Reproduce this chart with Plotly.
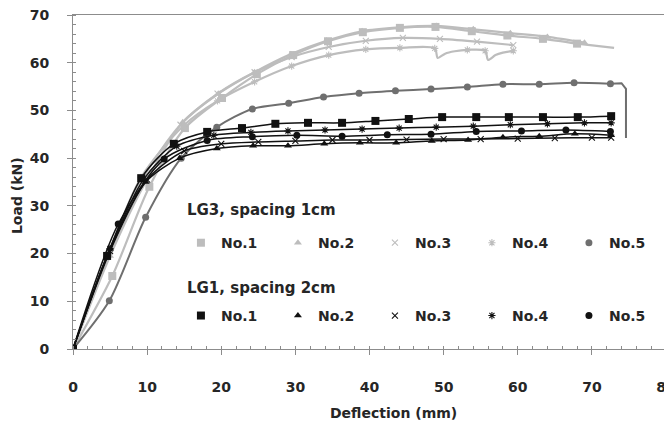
import plotly.graph_objects as go

# ---------------- data ----------------
# LG1, spacing 2cm (black)
lg1_no1_x = [0, 4.6, 9.2, 13.6, 18.1, 22.8, 27.3, 31.7, 36.3, 40.8, 45.3, 49.8, 54.4, 58.8, 63.4, 68.1, 72.6]
lg1_no1_y = [0, 19.5, 35.8, 43.0, 45.5, 46.3, 47.2, 47.4, 47.4, 47.8, 48.2, 48.6, 48.6, 48.6, 48.6, 48.6, 48.8]
lg1_no2_x = [0, 5.0, 9.8, 14.4, 19.4, 24.3, 29.0, 33.9, 38.7, 43.6, 48.4, 53.3, 58.0, 62.9, 67.7, 72.6]
lg1_no2_y = [0, 21.0, 35.0, 40.0, 42.0, 42.6, 42.6, 43.0, 43.2, 43.2, 43.6, 43.8, 44.4, 44.6, 45.1, 44.8]
lg1_no3_x = [0, 5, 10, 15, 20, 25, 30, 35, 40, 45, 50, 55, 60, 65, 70, 72.6]
lg1_no3_y = [0, 20.5, 35.5, 41.5, 43.0, 43.4, 43.6, 43.8, 43.8, 43.9, 44.0, 44.0, 44.1, 44.2, 44.3, 44.3]
lg1_no4_x = [0, 5, 9.5, 14, 19, 24, 29, 34, 39, 44, 49, 54, 59, 64, 69, 72.6]
lg1_no4_y = [0, 21.0, 35.5, 42.5, 44.8, 45.4, 45.7, 45.9, 46.1, 46.3, 46.5, 46.7, 47.0, 47.2, 47.4, 47.4]
lg1_no5_x = [0, 6.1, 12.3, 18.1, 24.2, 30.2, 36.3, 42.4, 48.3, 54.4, 60.5, 66.5, 72.5]
lg1_no5_y = [0, 26.2, 39.8, 43.7, 44.5, 44.8, 44.6, 44.9, 45.0, 45.6, 45.7, 45.9, 45.6]

# LG3, spacing 1cm (grey)
lg3_no1_x = [0, 5.3, 10.3, 15.1, 20.1, 24.8, 29.7, 34.4, 39.1, 44.1, 48.9, 53.8, 58.6, 63.4, 68.0]
lg3_no1_y = [0, 15.3, 34.0, 46.3, 52.6, 57.6, 61.6, 64.5, 66.4, 67.3, 67.5, 66.6, 65.7, 65.0, 64.0]
lg3_no1_tail_x = [68.0, 73.0]
lg3_no1_tail_y = [64.0, 63.1]
lg3_no2_x = [0, 5.0, 9.8, 14.8, 19.6, 24.5, 29.4, 34.2, 39.0, 44.0, 49.0, 54.0, 59.0, 64.0, 69.0]
lg3_no2_y = [0, 19.5, 35.0, 47.5, 53.5, 58.0, 61.8, 64.6, 66.6, 67.4, 67.7, 67.0, 66.2, 65.4, 64.2]
lg3_no3_x = [0, 5, 9.5, 14.5, 19.5, 24.5, 29.5, 34.5, 39.5, 44.5, 49.5, 54.5, 59.4]
lg3_no3_y = [0, 21.0, 36.0, 47.0, 53.5, 58.0, 61.2, 63.3, 64.6, 65.2, 65.0, 64.4, 63.7]
lg3_no4_x = [0, 5, 9.2, 14.9, 19.5, 24.5, 29.5, 34.5, 39.5, 44.1, 48.8, 53.2, 55.6, 59.4]
lg3_no4_y = [0, 21.0, 36.0, 46.8, 52.0, 56.0, 59.3, 61.6, 62.8, 63.1, 63.0, 62.7, 62.5, 62.5]
lg3_no4_dip_x = [49.2, 50.2, 51.5, 56.0, 57.0, 58.0]
lg3_no4_dip_y = [61.0, 61.9, 62.4, 60.6, 61.6, 62.1]
lg3_no5_x = [0, 4.9, 9.8, 14.6, 19.4, 24.2, 29.1, 33.8, 38.6, 43.5, 48.3, 53.2, 58.0, 62.9, 67.6, 72.5]
lg3_no5_y = [0, 10.1, 27.6, 40.0, 46.5, 50.3, 51.5, 52.8, 53.6, 54.1, 54.5, 54.9, 55.5, 55.5, 55.8, 55.6]
lg3_no5_tail_x = [72.5, 74.0, 74.6, 74.6]
lg3_no5_tail_y = [55.6, 55.7, 54.5, 44.2]

names = ["No.1", "No.2", "No.3", "No.4", "No.5"]
x_ticks = [0, 10, 20, 30, 40, 50, 60, 70, 80]
y_ticks = [0, 10, 20, 30, 40, 50, 60, 70]

# ---------------- styles ----------------
LIGHT = "#bdbdbd"
DARK = "#6f6f6f"
BLACK = "#111111"
FONT = "DejaVu Sans"
TXT = "#262626"

fig = go.Figure()


def merge(x, y, ex=None, ey=None):
    pts = list(zip(x, y))
    if ex:
        pts += list(zip(ex, ey))
    pts.sort(key=lambda p: p[0])
    return [p[0] for p in pts], [p[1] for p in pts]


def add_series(x, y, name, color, lw, symbol, msize, legend,
               extra_x=None, extra_y=None, tail_x=None, tail_y=None, open_sym=False):
    lx, ly = merge(x, y, extra_x, extra_y)
    fig.add_trace(go.Scatter(x=lx, y=ly, mode="lines", showlegend=False,
                             line=dict(color=color, width=lw, shape="spline", smoothing=0.8),
                             hoverinfo="skip"))
    if tail_x:
        fig.add_trace(go.Scatter(x=tail_x, y=tail_y, mode="lines", showlegend=False,
                                 line=dict(color=color, width=lw), hoverinfo="skip"))
    if open_sym:
        mk = dict(symbol=symbol, size=msize, color=color, line=dict(color=color, width=1.1))
    else:
        mk = dict(symbol=symbol, size=msize, color=color, line=dict(width=0))
    fig.add_trace(go.Scatter(x=x, y=y, mode="markers", name=name, legend=legend, marker=mk))


# LG3 (drawn first, behind)
add_series(lg3_no1_x, lg3_no1_y, names[0], LIGHT, 2.2, "square", 8, "legend",
           tail_x=lg3_no1_tail_x, tail_y=lg3_no1_tail_y)
add_series(lg3_no2_x, lg3_no2_y, names[1], LIGHT, 2.2, "triangle-up", 7, "legend")
add_series(lg3_no3_x, lg3_no3_y, names[2], LIGHT, 2.2, "x-thin-open", 6, "legend", open_sym=True)
add_series(lg3_no4_x, lg3_no4_y, names[3], LIGHT, 2.2, "asterisk-open", 6, "legend",
           extra_x=lg3_no4_dip_x, extra_y=lg3_no4_dip_y, open_sym=True)
add_series(lg3_no5_x, lg3_no5_y, names[4], DARK, 2, "circle", 7, "legend",
           tail_x=lg3_no5_tail_x, tail_y=lg3_no5_tail_y)

# LG1
add_series(lg1_no1_x, lg1_no1_y, names[0], BLACK, 1.5, "square", 8, "legend2")
add_series(lg1_no2_x, lg1_no2_y, names[1], BLACK, 1.5, "triangle-up", 7, "legend2")
add_series(lg1_no3_x, lg1_no3_y, names[2], BLACK, 1.5, "x-thin-open", 6, "legend2", open_sym=True)
add_series(lg1_no4_x, lg1_no4_y, names[3], BLACK, 1.5, "asterisk-open", 6, "legend2", open_sym=True)
add_series(lg1_no5_x, lg1_no5_y, names[4], BLACK, 1.5, "circle", 7, "legend2")

axis_common = dict(
    showgrid=False, zeroline=False, showline=True, linecolor="#8c8c8c", linewidth=1,
    mirror=True, ticks="outside", ticklen=5, tickcolor="#8c8c8c", tickwidth=1,
    automargin=False, ticklabeloverflow="allow",
    tickfont=dict(family=FONT, size=14, color=TXT, weight="bold"),
    minor=dict(ticks="inside", ticklen=3, tickcolor="#8c8c8c", tickwidth=1, dtick=2, showgrid=False),
)

fig.update_xaxes(range=[0, 80], tickvals=x_ticks, ticklabelstandoff=20, **axis_common)
fig.update_yaxes(range=[0, 70], tickvals=y_ticks, ticklabelstandoff=15, **axis_common)

legend_common = dict(orientation="h", entrywidth=52, entrywidthmode="pixels",
                     font=dict(family=FONT, size=14, color=TXT, weight="bold"),
                     bgcolor="rgba(0,0,0,0)", borderwidth=0, xanchor="left", yanchor="middle",
                     itemclick=False)

# The page body adds an 8 px offset, so the figure is 8 px smaller and the
# margins are set so the plot area lands where the reference has it.
fig.update_layout(
    width=664, height=417,
    margin=dict(l=65, r=6, t=7, b=76, autoexpand=False),
    paper_bgcolor="white", plot_bgcolor="white",
    font=dict(family=FONT, color=TXT),
    legend=dict(x=0.182, y=0.317, **legend_common),
    legend2=dict(x=0.182, y=0.099, **legend_common),
    annotations=[
        dict(text="LG3, spacing 1cm", xref="paper", yref="paper", x=0.189, y=0.416,
             xanchor="left", yanchor="middle", showarrow=False,
             font=dict(family=FONT, size=15, color=TXT, weight="bold")),
        dict(text="LG1, spacing 2cm", xref="paper", yref="paper", x=0.189, y=0.183,
             xanchor="left", yanchor="middle", showarrow=False,
             font=dict(family=FONT, size=15, color=TXT, weight="bold")),
        dict(text="Deflection (mm)", xref="paper", yref="paper", x=0.541, y=-0.192,
             xanchor="center", yanchor="middle", showarrow=False,
             font=dict(family=FONT, size=14, color=TXT, weight="bold")),
        dict(text="Load (kN)", xref="paper", yref="paper", x=-0.0944, y=0.458,
             xanchor="center", yanchor="middle", showarrow=False, textangle=-90,
             font=dict(family=FONT, size=14, color=TXT, weight="bold")),
    ],
)

fig.write_html("out.html")
